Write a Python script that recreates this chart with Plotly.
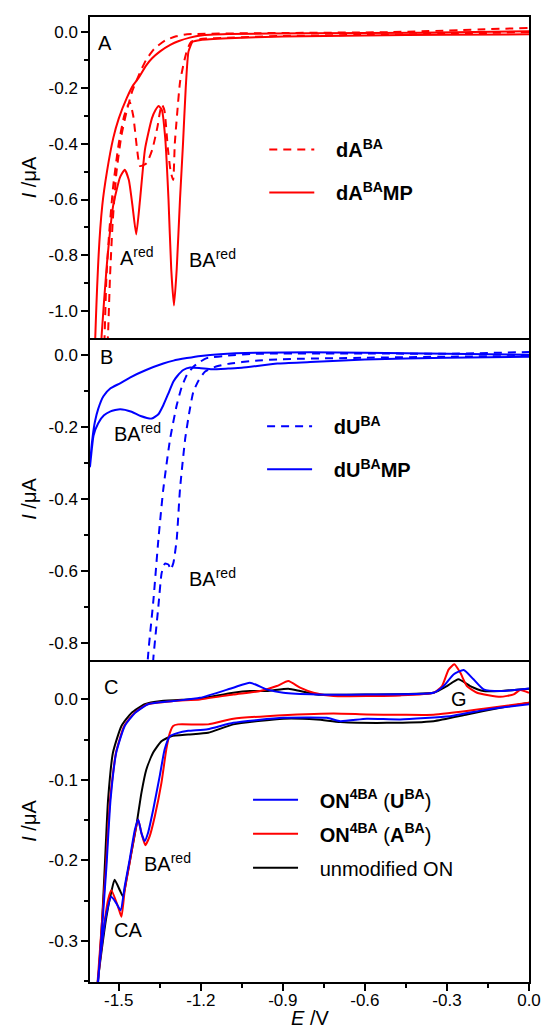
import plotly.graph_objects as go

# ---------------- Panel A (red): dA^BA (dashed) and dA^BA MP (solid) ----------------
E_A_dA = [0.0, -0.3, -0.6, -0.9, -1.1, -1.2, -1.235, -1.25, -1.262, -1.276, -1.287, -1.295, -1.301,
          -1.31, -1.32, -1.333, -1.342, -1.35, -1.358, -1.377, -1.398, -1.422, -1.434, -1.447, -1.46,
          -1.48, -1.50, -1.52, -1.535, -1.545, -1.552, -1.56,
          -1.556, -1.54, -1.532, -1.522, -1.508, -1.49, -1.47, -1.45, -1.42, -1.40, -1.37, -1.33,
          -1.29, -1.25, -1.0, -0.5, 0.0]
I_A_dA = [0.0, -0.006, -0.010, -0.014, -0.020, -0.025, -0.035, -0.064, -0.11, -0.18, -0.30, -0.40, -0.53,
          -0.50, -0.42, -0.28, -0.26, -0.29, -0.338, -0.42, -0.47, -0.48, -0.41, -0.30, -0.25,
          -0.30, -0.40, -0.55, -0.72, -0.88, -1.1, -1.3,
          -1.3, -1.1, -0.88, -0.68, -0.50, -0.37, -0.28, -0.21, -0.14, -0.10, -0.06, -0.03,
          -0.015, -0.008, -0.004, 0.0, 0.015]

E_A_dAMP = [0.0, -0.3, -0.6, -0.9, -1.1, -1.2, -1.23, -1.245, -1.255, -1.265, -1.276, -1.288, -1.298,
            -1.308, -1.318, -1.33, -1.342, -1.354, -1.366, -1.379, -1.404, -1.422, -1.436, -1.45,
            -1.463, -1.478, -1.495, -1.52, -1.544, -1.562, -1.58,
            -1.588, -1.576, -1.56, -1.543, -1.52, -1.50, -1.47, -1.447, -1.428, -1.40, -1.378, -1.35,
            -1.31, -1.28, -1.24, -1.20, -1.10, -0.8, -0.4, 0.0]
I_A_dAMP = [-0.008, -0.010, -0.012, -0.016, -0.022, -0.028, -0.035, -0.07, -0.20, -0.40, -0.60, -0.85, -0.98,
            -0.85, -0.60, -0.38, -0.28, -0.265, -0.28, -0.31, -0.42, -0.60, -0.725, -0.62,
            -0.53, -0.493, -0.52, -0.62, -0.84, -1.08, -1.35,
            -1.35, -0.85, -0.62, -0.50, -0.38, -0.31, -0.235, -0.19, -0.165, -0.12, -0.094, -0.07,
            -0.045, -0.032, -0.02, -0.012, -0.007, -0.004, -0.002, 0.003]

# ---------------- Panel B (blue): dU^BA (dashed) and dU^BA MP (solid) ----------------
E_B_dU = [0.0, -0.3, -0.6, -0.9, -1.0, -1.1, -1.15, -1.184, -1.207, -1.227, -1.242, -1.257, -1.276,
          -1.288, -1.30, -1.31, -1.318, -1.331, -1.343, -1.355, -1.373, -1.385,
          -1.40, -1.392, -1.373, -1.355, -1.337, -1.312, -1.288, -1.27, -1.251, -1.227, -1.20,
          -1.178, -1.1, -1.0, -0.6, -0.3, 0.0]
I_B_dU = [-0.003, -0.005, -0.008, -0.012, -0.016, -0.025, -0.034, -0.046, -0.07, -0.102, -0.16, -0.233, -0.373,
          -0.513, -0.578, -0.597, -0.583, -0.58, -0.606, -0.699, -0.839, -0.95,
          -0.95, -0.83, -0.68, -0.513, -0.373, -0.233, -0.14, -0.09, -0.056, -0.033, -0.018,
          -0.009, -0.002, 0.003, 0.004, 0.003, 0.008]

E_B_dUMP = [0.0, -0.3, -0.6, -0.8, -0.92, -1.05, -1.10, -1.16, -1.20, -1.239, -1.264, -1.285, -1.30,
            -1.32, -1.337, -1.355, -1.379, -1.42, -1.453, -1.495, -1.53, -1.554, -1.575, -1.592, -1.605,
            -1.60, -1.595, -1.587, -1.575, -1.556, -1.53, -1.495, -1.459, -1.40, -1.337, -1.30, -1.251,
            -1.20, -1.13, -1.0, -0.8, -0.6, -0.3, 0.0]
I_B_dUMP = [-0.005, -0.008, -0.013, -0.020, -0.024, -0.036, -0.038, -0.040, -0.037, -0.035, -0.042, -0.058, -0.074,
            -0.11, -0.14, -0.165, -0.177, -0.17, -0.158, -0.151, -0.157, -0.168, -0.19, -0.224, -0.31,
            -0.26, -0.225, -0.186, -0.15, -0.115, -0.093, -0.079, -0.063, -0.042, -0.024, -0.016, -0.009,
            -0.003, 0.002, 0.006, 0.007, 0.006, 0.003, 0.0]

# ---------------- Panel C: ON4BA(U^BA) blue, ON4BA(A^BA) red, unmodified ON black ----------------
E_C_U = [0.0, -0.10, -0.166, -0.288, -0.471, -0.593, -0.69, -0.739, -0.898, -1.081, -1.175, -1.246,
         -1.283, -1.313, -1.332, -1.35, -1.374, -1.393, -1.405, -1.417, -1.429, -1.441, -1.46, -1.478,
         -1.493, -1.509, -1.527, -1.545, -1.564, -1.576, -1.585,
         -1.588, -1.575, -1.56, -1.545, -1.53, -1.509, -1.478, -1.441, -1.393, -1.30, -1.203, -1.081,
         -1.02, -0.959, -0.898, -0.776, -0.593, -0.349, -0.312, -0.276, -0.239, -0.203, -0.166, -0.105, 0.0]
I_C_U = [-0.006, -0.010, -0.0133, -0.0208, -0.0249, -0.024, -0.027, -0.0228, -0.0228, -0.029, -0.037, -0.039,
         -0.0415, -0.0457, -0.062, -0.095, -0.137, -0.166, -0.176, -0.166, -0.149, -0.162, -0.199, -0.232,
         -0.262, -0.253, -0.245, -0.266, -0.311, -0.349, -0.40,
         -0.40, -0.35, -0.28, -0.208, -0.125, -0.066, -0.033, -0.017, -0.006, -0.002, 0.002, 0.0146,
         0.0208, 0.0125, 0.0083, 0.0062, 0.0062, 0.0083, 0.0166, 0.031, 0.0365, 0.025, 0.0125, 0.0104, 0.0135]

E_C_A = [0.0, -0.166, -0.349, -0.471, -0.593, -0.715, -0.959, -1.081, -1.173, -1.283, -1.301, -1.313,
         -1.326, -1.344, -1.368, -1.387, -1.403, -1.417, -1.429, -1.441, -1.46, -1.478, -1.49, -1.503,
         -1.527, -1.539, -1.557, -1.576, -1.588,
         -1.59, -1.577, -1.562, -1.547, -1.532, -1.51, -1.48, -1.443, -1.395, -1.30, -1.203, -1.081,
         -0.983, -0.922, -0.88, -0.837, -0.788, -0.715, -0.471, -0.349, -0.318, -0.294, -0.273, -0.251,
         -0.227, -0.19, -0.105, -0.056, -0.032, 0.0]
I_C_A = [-0.004, -0.0115, -0.019, -0.019, -0.0187, -0.0174, -0.0208, -0.024, -0.031, -0.031, -0.033, -0.0415,
         -0.062, -0.104, -0.145, -0.17, -0.181, -0.166, -0.149, -0.166, -0.203, -0.237, -0.27, -0.257,
         -0.237, -0.249, -0.29, -0.349, -0.40,
         -0.40, -0.35, -0.28, -0.208, -0.125, -0.066, -0.033, -0.017, -0.006, -0.002, 0.0, 0.0062,
         0.0104, 0.0166, 0.0228, 0.0146, 0.0083, 0.0042, 0.005, 0.0083, 0.0166, 0.037, 0.0436, 0.033,
         0.0166, 0.0083, 0.0033, 0.0062, 0.0117, 0.0083]

E_C_ON = [0.0, -0.105, -0.227, -0.349, -0.52, -0.69, -0.776, -0.898, -1.081, -1.173, -1.246, -1.308,
          -1.344, -1.374, -1.399, -1.417, -1.436, -1.454, -1.472, -1.484, -1.496, -1.515, -1.527, -1.545,
          -1.564, -1.576, -1.585,
          -1.588, -1.573, -1.56, -1.551, -1.539, -1.521, -1.49, -1.454, -1.405, -1.344, -1.246, -1.203,
          -1.081, -1.02, -0.959, -0.88, -0.837, -0.776, -0.593, -0.349, -0.30, -0.258, -0.215, -0.166,
          -0.105, 0.0]
I_C_ON = [-0.004, -0.0104, -0.0187, -0.027, -0.0291, -0.028, -0.025, -0.024, -0.031, -0.0415, -0.0436, -0.0457,
          -0.052, -0.066, -0.087, -0.116, -0.158, -0.191, -0.224, -0.245, -0.237, -0.224, -0.239, -0.27,
          -0.316, -0.349, -0.40,
          -0.40, -0.34, -0.27, -0.208, -0.125, -0.066, -0.033, -0.017, -0.006, -0.002, 0.0, 0.001,
          0.0083, 0.0104, 0.0104, 0.0133, 0.0104, 0.0062, 0.0062, 0.0083, 0.0166, 0.025, 0.0166, 0.0104,
          0.0104, 0.0133]

# ---------------- Axis ticks ----------------
x_ticks = [-1.5, -1.2, -0.9, -0.6, -0.3, 0.0]
x_ticklabels = ["-1.5", "-1.2", "-0.9", "-0.6", "-0.3", "0.0"]
yA_ticks = [0.0, -0.2, -0.4, -0.6, -0.8, -1.0]
yA_ticklabels = ["0.0", "-0.2", "-0.4", "-0.6", "-0.8", "-1.0"]
yB_ticks = [0.0, -0.2, -0.4, -0.6, -0.8]
yB_ticklabels = ["0.0", "-0.2", "-0.4", "-0.6", "-0.8"]
yC_ticks = [0.0, -0.1, -0.2, -0.3]
yC_ticklabels = ["0.0", "-0.1", "-0.2", "-0.3"]

RED = "#ff0000"
BLUE = "#0000ff"
BLACK = "#000000"
FONT = "Liberation Sans, Arial, sans-serif"
DASH = "8px,6px"
LW = 2.0
PAD = "\u00a0\u00a0\u00a0"

fig = go.Figure()

def add(E, I, color, dash, name, xa, ya, legend, group, rank):
    fig.add_trace(go.Scatter(
        x=E, y=I, mode="lines", name=PAD + name, xaxis=xa, yaxis=ya,
        line=dict(color=color, width=LW, dash=dash, shape="spline", smoothing=0.5),
        legend=legend, legendgroup=group, legendrank=rank, hoverinfo="skip"))

add(E_A_dA, I_A_dA, RED, DASH, "<b>dA<sup>BA</sup></b>", "x", "y", "legend", "a1", 1)
add(E_A_dAMP, I_A_dAMP, RED, "solid", "<b>dA<sup>BA</sup>MP</b>", "x", "y", "legend", "a2", 2)
add(E_B_dU, I_B_dU, BLUE, DASH, "<b>dU<sup>BA</sup></b>", "x2", "y2", "legend2", "b1", 1)
add(E_B_dUMP, I_B_dUMP, BLUE, "solid", "<b>dU<sup>BA</sup>MP</b>", "x2", "y2", "legend2", "b2", 2)
add(E_C_ON, I_C_ON, BLACK, "solid", "unmodified ON", "x3", "y3", "legend3", "c3", 3)
add(E_C_A, I_C_A, RED, "solid", "<b>ON<sup>4BA</sup></b> (<b>A<sup>BA</sup></b>)", "x3", "y3", "legend3", "c2", 2)
add(E_C_U, I_C_U, BLUE, "solid", "<b>ON<sup>4BA</sup></b> (<b>U<sup>BA</sup></b>)", "x3", "y3", "legend3", "c1", 1)

xr = [-1.605, 0.0]
line = dict(showline=True, linecolor="black", linewidth=1.5, zeroline=False, showgrid=False,
            automargin=False)
xminor = dict(ticks="outside", ticklen=4, tickwidth=1.5, tickcolor="black", tickmode="linear",
              tick0=0, dtick=0.15)

def yaxis(domain, rng, tv, tt, mdt):
    return dict(domain=domain, range=rng, tickmode="array", tickvals=tv, ticktext=tt,
                ticks="outside", ticklen=7, tickwidth=1.5, tickcolor="black",
                minor=dict(ticks="outside", ticklen=4, tickwidth=1.5, tickcolor="black",
                           tickmode="linear", tick0=0, dtick=mdt),
                tickfont=dict(size=17, color="black", family=FONT),
                title=dict(text="<i>I</i> /\u03bcA", font=dict(size=20, color="black", family=FONT),
                           standoff=7),
                mirror=True, **line)

dA = [0.6674, 1.0]
dB = [0.3337, 0.6674]
dC = [0.0, 0.3337]

leg_font = dict(size=20, color="black", family=FONT)
fig.update_layout(
    width=541, height=1032,
    margin=dict(l=90, r=12, t=17, b=50, autoexpand=False),
    paper_bgcolor="white", plot_bgcolor="white",
    font=dict(family=FONT, color="black"),
    xaxis=dict(anchor="y", range=xr, matches="x3", showticklabels=False, ticks="", mirror=True, **line),
    xaxis2=dict(anchor="y2", range=xr, matches="x3", showticklabels=False, ticks="", mirror=False, **line),
    xaxis3=dict(anchor="y3", range=xr, tickmode="array", tickvals=x_ticks, ticktext=x_ticklabels,
                ticks="outside", ticklen=7, tickwidth=1.5, tickcolor="black", minor=xminor,
                ticklabelstandoff=-5,
                tickfont=dict(size=17, color="black", family=FONT), mirror=False, **line),
    yaxis=yaxis(dA, [-1.096, 0.054], yA_ticks, yA_ticklabels, 0.1),
    yaxis2=yaxis(dB, [-0.848, 0.047], yB_ticks, yB_ticklabels, 0.1),
    yaxis3=yaxis(dC, [-0.351, 0.049], yC_ticks, yC_ticklabels, 0.05),
    legend=dict(x=0.397, y=0.883, xanchor="left", yanchor="top", traceorder="grouped",
                tracegroupgap=14, bgcolor="rgba(0,0,0,0)", itemwidth=45, font=leg_font),
    legend2=dict(x=0.392, y=0.596, xanchor="left", yanchor="top", traceorder="grouped",
                 tracegroupgap=14, bgcolor="rgba(0,0,0,0)", itemwidth=45, font=leg_font),
    legend3=dict(x=0.360, y=0.209, xanchor="left", yanchor="top", traceorder="grouped",
                 tracegroupgap=5, bgcolor="rgba(0,0,0,0)", itemwidth=45, font=leg_font),
    showlegend=True,
)

ann_font = dict(size=20, color="black", family=FONT)
labels = [
    ("A", -1.55, -0.04, "x", "y"),
    ("A<sup>red</sup>", -1.433, -0.805, "x", "y"),
    ("BA<sup>red</sup>", -1.157, -0.81, "x", "y"),
    ("B", -1.545, -0.006, "x2", "y2"),
    ("BA<sup>red</sup>", -1.43, -0.215, "x2", "y2"),
    ("BA<sup>red</sup>", -1.157, -0.62, "x2", "y2"),
    ("C", -1.529, 0.015, "x3", "y3"),
    ("G", -0.257, 0.0, "x3", "y3"),
    ("BA<sup>red</sup>", -1.323, -0.203, "x3", "y3"),
    ("CA", -1.467, -0.287, "x3", "y3"),
]
for text, ex, iy, xr_, yr_ in labels:
    fig.add_annotation(text=text, x=ex, y=iy, xref=xr_, yref=yr_, showarrow=False,
                       xanchor="center", yanchor="middle", font=ann_font)

# x-axis title
fig.add_annotation(text="<i>E</i> /V", x=0.5, y=0, xref="paper", yref="paper", showarrow=False,
                   xanchor="center", yanchor="middle", yshift=-36, font=ann_font)

fig.write_html("out.html", config={"displayModeBar": False},
               post_script="document.body.style.margin='0px';document.body.style.overflow='hidden';")
